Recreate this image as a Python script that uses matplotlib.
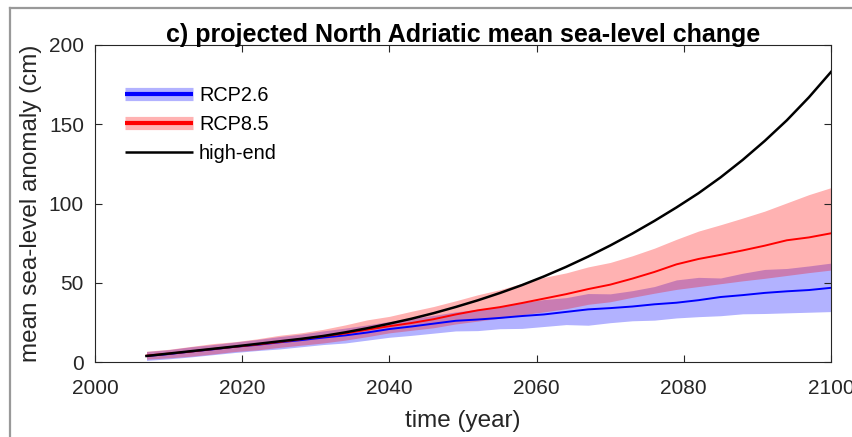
import matplotlib
matplotlib.use("Agg")
import matplotlib.pyplot as plt
from matplotlib.lines import Line2D

years = list(range(2007, 2101, 3))

high_end = [3.8, 5.3, 6.8, 8.3, 9.8, 11.4, 13.0, 14.6, 16.4, 18.7, 21.3, 24.2,
            27.3, 30.8, 34.7, 38.9, 43.5, 48.5, 54.0, 60.0, 66.5, 73.5, 81.0,
            89.0, 97.5, 106.5, 116.5, 127.5, 139.5, 152.5, 167.0, 183.0]

rcp85_mean = [4.0, 5.3, 6.6, 8.2, 9.6, 11.0, 12.6, 14.4, 16.2, 18.0, 20.4, 22.6,
              24.6, 27.0, 30.0, 32.6, 34.6, 37.2, 40.0, 42.8, 46.0, 48.8, 52.6,
              56.8, 61.6, 65.0, 67.6, 70.4, 73.4, 76.8, 78.6, 81.2]
rcp85_upper = [6.8, 8.0, 9.8, 11.6, 12.8, 14.6, 16.8, 18.4, 20.6, 23.4, 26.6, 28.8,
               32.0, 35.0, 38.6, 42.4, 45.6, 49.6, 53.4, 56.2, 60.0, 62.8, 67.0,
               71.8, 77.4, 82.6, 86.6, 90.8, 95.2, 100.4, 105.6, 110.0]
rcp85_lower = [1.8, 2.6, 3.6, 5.0, 6.6, 7.6, 9.2, 10.6, 12.0, 13.8, 16.0, 18.4,
               20.0, 21.6, 24.0, 25.8, 27.6, 29.8, 31.6, 33.6, 36.4, 38.0, 40.8,
               43.4, 45.8, 47.6, 49.4, 51.2, 52.8, 54.6, 56.4, 58.0]

rcp26_mean = [3.8, 5.0, 6.6, 8.0, 9.6, 10.8, 12.4, 13.8, 15.4, 16.8, 18.6, 20.8,
              22.4, 24.2, 26.0, 26.8, 27.8, 29.0, 30.0, 31.6, 33.2, 34.0, 35.0,
              36.4, 37.4, 39.0, 41.0, 42.2, 43.6, 44.6, 45.4, 46.8]
rcp26_upper = [6.6, 7.8, 9.6, 11.0, 12.6, 14.2, 16.0, 17.6, 19.6, 21.4, 23.4, 25.6,
               27.4, 29.4, 31.6, 33.2, 35.0, 37.4, 39.4, 40.6, 43.2, 43.0, 45.0,
               47.6, 51.8, 53.4, 53.0, 56.0, 58.4, 59.0, 60.6, 62.4]
rcp26_lower = [1.0, 2.0, 3.2, 4.6, 6.0, 7.2, 8.2, 9.6, 11.0, 12.0, 13.8, 15.6,
               16.8, 18.2, 19.6, 19.8, 21.0, 21.2, 22.4, 23.6, 23.2, 24.8, 26.0,
               26.4, 27.8, 28.6, 29.2, 30.4, 30.6, 31.0, 31.4, 31.8]

plt.rcParams['font.family'] = ['Arial', 'Liberation Sans', 'DejaVu Sans']
text_col = '#262626'

fig = plt.figure(figsize=(8.53, 4.37), dpi=100)
ax = fig.add_axes([95 / 853, 75 / 437, 736 / 853, 317 / 437])

ax.fill_between(years, rcp26_lower, rcp26_upper, color='blue', alpha=0.3, lw=0)
ax.fill_between(years, rcp85_lower, rcp85_upper, color='red', alpha=0.3, lw=0)
ax.plot(years, rcp26_mean, color='blue', lw=1.4)
ax.plot(years, rcp85_mean, color='red', lw=1.4)
ax.plot(years, high_end, color='black', lw=1.8)

ax.set_xlim(2000, 2100)
ax.set_ylim(0, 200)
ax.set_xticks(range(2000, 2101, 20))
ax.set_yticks(range(0, 201, 50))
ax.tick_params(direction='in', length=5, width=0.8, top=True, right=True,
               labelsize=15, colors=text_col)
ax.tick_params(axis='x', pad=12)
ax.tick_params(axis='y', pad=8)
for s in ax.spines.values():
    s.set_color(text_col)
    s.set_linewidth(0.8)

ax.set_xlabel('time (year)', fontsize=17.5, color=text_col, labelpad=9)
ax.set_ylabel('mean sea-level anomaly (cm)', fontsize=17.5, color=text_col, labelpad=5)
ax.set_title('c) projected North Adriatic mean sea-level change',
             fontsize=18, fontweight='bold', pad=2)

# legend: band + mean line for the RCPs
h26 = (Line2D([], [], color='blue', alpha=0.3, lw=9.5, solid_capstyle='butt'),
       Line2D([], [], color='blue', lw=3, solid_capstyle='butt'))
h85 = (Line2D([], [], color='red', alpha=0.3, lw=9.5, solid_capstyle='butt'),
       Line2D([], [], color='red', lw=3, solid_capstyle='butt'))
hhe = Line2D([], [], color='black', lw=1.8, solid_capstyle='butt')
ax.legend([h26, h85, hhe], ['RCP2.6', 'RCP8.5', 'high-end'],
          loc='upper left', bbox_to_anchor=(0.041, 0.87), frameon=False,
          fontsize=14.3, handlelength=3.42, handletextpad=0.3,
          labelspacing=0.5, borderpad=0, borderaxespad=0)

# panel frame (left and top edges of the cropped figure box)
fig.add_artist(Line2D([10 / 853, 10 / 853], [0, 1 - 8 / 437],
                      transform=fig.transFigure, color='#999999', lw=1.6))
fig.add_artist(Line2D([10 / 853, 1], [1 - 8 / 437, 1 - 8 / 437],
                      transform=fig.transFigure, color='#999999', lw=1.6))

fig.savefig('out.png', dpi=100)
